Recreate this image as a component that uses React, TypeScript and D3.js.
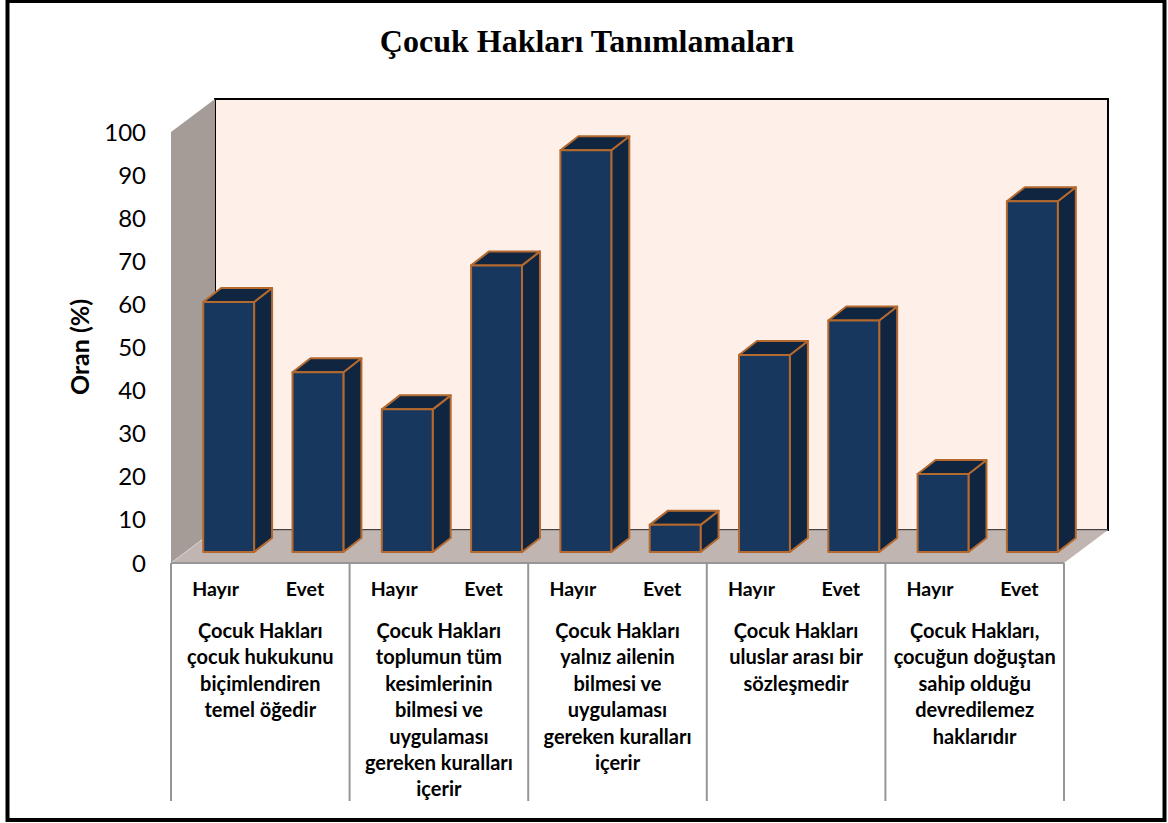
import React from "react";
import * as d3 from "d3";

const TITLE = "Çocuk Hakları Tanımlamaları";
const Y_LABEL = "Oran (%)";
const yTicks = [0, 10, 20, 30, 40, 50, 60, 70, 80, 90, 100];
const answers = ["Hayır", "Evet", "Hayır", "Evet", "Hayır", "Evet", "Hayır", "Evet", "Hayır", "Evet"];
const values = [58, 41.7, 33.1, 66.5, 93.2, 6.3, 45.7, 53.7, 18.1, 81.4];
const groupLabels = [
  ["Çocuk Hakları", "çocuk hukukunu", "biçimlendiren", "temel öğedir"],
  ["Çocuk Hakları", "toplumun tüm", "kesimlerinin", "bilmesi ve", "uygulaması", "gereken kuralları", "içerir"],
  ["Çocuk Hakları", "yalnız ailenin", "bilmesi ve", "uygulaması", "gereken kuralları", "içerir"],
  ["Çocuk Hakları", "uluslar arası bir", "sözleşmedir"],
  ["Çocuk Hakları,", "çocuğun doğuştan", "sahip olduğu", "devredilemez", "haklarıdır"],
];

const W = 1168, H = 823;
const left = 171, right = 1064, floorY = 563, topY = 132;
const depthX = 44, depthY = -33;
const barDX = 18, barDY = -14;
const barShiftX = 13, barFloorY = 552;

export default function App() {
  const ids = values.map((_, i) => String(i));
  const x = d3.scaleBand<string>().domain(ids).range([left, right]).paddingInner(0.43).paddingOuter(0.215);
  const yAxis = d3.scaleLinear().domain([0, 100]).range([floorY, topY]);
  const yBar = d3.scaleLinear().domain([0, 100]).range([barFloorY, barFloorY - (floorY - topY)]);
  const poly = (p: [number, number][]) => d3.line()(p) + "Z";
  const sans = "Lato, 'Noto Sans', sans-serif";
  const groupX = d3.scaleBand<number>().domain(d3.range(groupLabels.length)).range([left, right]);

  return (
    <svg width={W} height={H} viewBox={`0 0 ${W} ${H}`}
      style={{ position: "absolute", left: 0, top: 0, display: "block", background: "#fff" }}>
      {/* back wall */}
      <rect x={left + depthX} y={topY + depthY} width={right - left} height={floorY - topY}
        fill="#fef0e9" stroke="#000" strokeWidth={2} />
      {/* side wall */}
      <path d={poly([[left, topY], [left + depthX, topY + depthY], [left + depthX, floorY + depthY], [left, floorY]])}
        fill="#a59c97" />
      {/* floor */}
      <path d={poly([[left, floorY], [left + depthX, floorY + depthY], [right + depthX, floorY + depthY], [right, floorY]])}
        fill="#c0b5b0" />
      <line x1={left + depthX} x2={right + depthX} y1={floorY + depthY} y2={floorY + depthY} stroke="#8c8480" strokeWidth={1} />
      <line x1={left} x2={left + depthX} y1={floorY} y2={floorY + depthY} stroke="#d8d2ce" strokeWidth={1} />

      {/* bars */}
      {values.map((v, i) => {
        const x0 = x(String(i))! + barShiftX;
        const w = x.bandwidth();
        const yT = yBar(v);
        const x1 = x0 + w;
        return (
          <g key={i} stroke="#b4692f" strokeWidth={2} strokeLinejoin="round">
            <path d={poly([[x1, yT], [x1 + barDX, yT + barDY], [x1 + barDX, barFloorY + barDY], [x1, barFloorY]])} fill="#10253f" />
            <path d={poly([[x0, yT], [x0 + barDX, yT + barDY], [x1 + barDX, yT + barDY], [x1, yT]])} fill="#10253f" />
            <rect x={x0} y={yT} width={w} height={barFloorY - yT} fill="#17375e" />
          </g>
        );
      })}

      {/* category axis */}
      <line x1={left} x2={right} y1={floorY} y2={floorY} stroke="#969696" strokeWidth={2} />
      {d3.range(groupLabels.length + 1).map((i) => {
        const gx = i < groupLabels.length ? groupX(i)! : right;
        return <line key={i} x1={gx} x2={gx} y1={floorY} y2={801} stroke="#969696" strokeWidth={2} />;
      })}
      {answers.map((a, i) => (
        <text key={i} x={x(String(i))! + x.bandwidth() / 2} y={596} textAnchor="middle"
          fontFamily={sans} fontWeight={700} fontSize={19.5} fill="#000">{a}</text>
      ))}
      {groupLabels.map((lines, g) => (
        <text key={g} textAnchor="middle" fontFamily={sans} fontWeight={700} fontSize={20} fill="#000">
          {lines.map((l, j) => (
            <tspan key={j} x={groupX(g)! + groupX.bandwidth() / 2} y={638 + j * 26.4}>{l}</tspan>
          ))}
        </text>
      ))}

      {/* value axis */}
      {yTicks.map((t) => (
        <text key={t} x={146} y={yAxis(t) + 8.5} textAnchor="end" fontFamily={sans} fontSize={24} fill="#000">{t}</text>
      ))}
      <text transform={`translate(89,347) rotate(-90)`} textAnchor="middle" fontFamily={sans} fontWeight={700} fontSize={25} fill="#000">{Y_LABEL}</text>

      {/* title */}
      <text x={587} y={52} textAnchor="middle" fontFamily="'Liberation Serif', serif" fontWeight={700} fontSize={32} fill="#000">{TITLE}</text>

      {/* frame */}
      <rect x={7.5} y={1} width={1157} height={819} fill="none" stroke="#000" strokeWidth={4} />
    </svg>
  );
}
